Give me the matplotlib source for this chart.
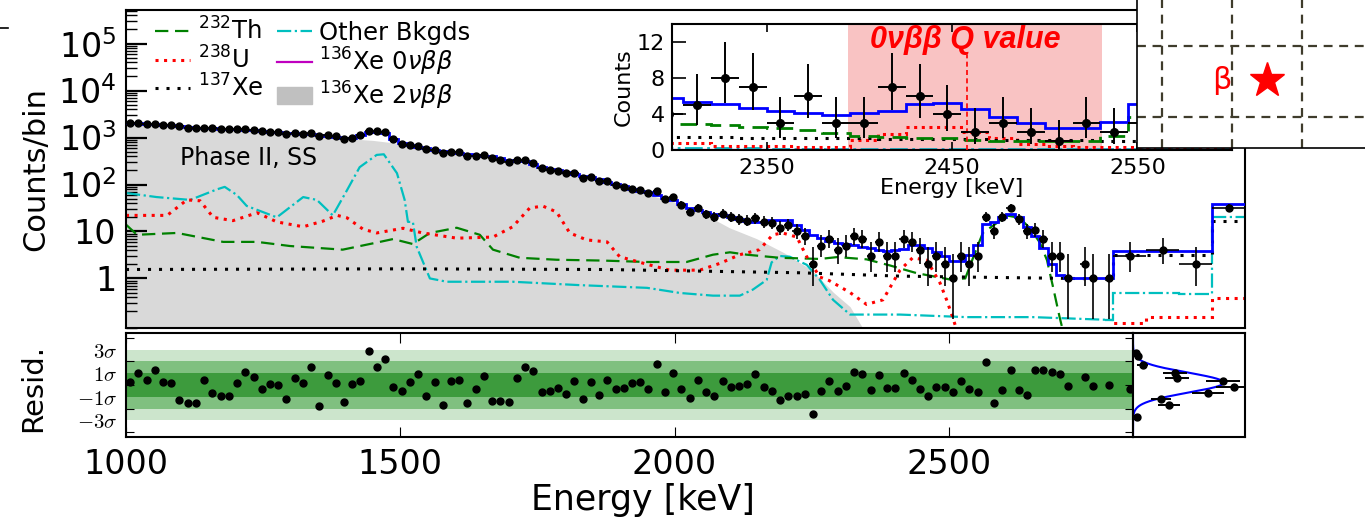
import numpy as np
import matplotlib

matplotlib.use("Agg")
import matplotlib.pyplot as plt
from matplotlib.lines import Line2D
from matplotlib.patches import Patch
from matplotlib.ticker import LogLocator, NullFormatter

W, H = 1365, 521

# 15 keV bins up to 2800 keV, then four wide bins at the top end
edges = np.r_[np.arange(1000, 2801, 15), [2860, 2920, 2980, 3040]]
centers = 0.5 * (edges[:-1] + edges[1:])
halfw = 0.5 * np.diff(edges)

counts = [
    2054, 2040, 1968, 1962, 1872, 1829, 1724, 1636, 1560, 1603,
    1559, 1511, 1514, 1519, 1521, 1471, 1369, 1320, 1287, 1216,
    1252, 1209, 1228, 1087, 1124, 1053, 931, 1002, 1134, 1390,
    1372, 1337, 927, 746, 698, 653, 567, 556, 475, 497,
    489, 414, 410, 422, 372, 337, 305, 327, 336, 289,
    225, 207, 196, 176, 174, 140, 148, 120, 120, 98,
    88, 82, 76, 65, 74, 48, 53, 37, 26, 31,
    23, 20, 24, 20, 18, 17, 19, 16, 15, 12,
    14, 10, 8, 2, 5, 7, 4, 5, 8, 7,
    3, 6, 3, 3, 7, 6, 4, 2, 3, 2,
    1, 3, 2, 3, 20, 10, 20, 31, 18, 10,
    11, 7, 3, 3, 1, 0, 2, 1, 0, 1,
    3, 4, 2, 31,
]

fit_total = [
    2042, 1995, 1950, 1905, 1862, 1820, 1778, 1698, 1622, 1585,
    1585, 1549, 1549, 1514, 1479, 1445, 1380, 1318, 1288, 1259,
    1230, 1202, 1175, 1148, 1096, 1047, 977, 1000, 1122, 1288,
    1318, 1259, 933, 759, 692, 631, 589, 550, 513, 490,
    479, 447, 417, 407, 398, 363, 331, 316, 309, 269,
    234, 214, 200, 186, 170, 155, 145, 129, 115, 102,
    91, 81, 74, 68, 60, 52, 46, 39, 32, 29,
    26.3, 24.0, 21.9, 20.4, 18.6, 17.0, 15.8, 16.2, 17.4, 17.8,
    17.4, 13.8, 10.7, 8.5, 7.1, 6.3, 5.75, 5.3, 5.07, 4.7,
    4.37, 4.07, 3.9, 4.07, 4.3, 5.07, 5.2, 4.52, 3.7, 2.96,
    2.4, 2.4, 3.1, 5.07, 14.1, 15.8, 20.4, 23.4, 20.4, 12.6,
    7.9, 4.5, 2.0, 1.2, 1.02, 1.02, 1.02, 1.02, 1.02, 1.02,
    3.9, 3.9, 3.9, 38,
]

nan = np.nan
resid = [
    0.27, 1.0, 0.4, 1.3, 0.24, 0.2, -1.27, -1.5, -1.54, 0.46,
    -0.65, -0.97, -0.9, 0.14, 1.08, 0.68, -0.3, 0.05, -0.03, -1.2,
    0.62, 0.19, 1.54, -1.8, 0.84, 0.19, -1.46, 0.05, 0.35, 2.84,
    1.49, 2.19, -0.19, -0.49, 0.24, 0.89, -0.89, 0.24, -1.7, 0.32,
    0.46, -1.54, -0.35, 0.73, -1.32, -1.38, -1.43, 0.59, 1.54, 1.22,
    -0.59, -0.51, -0.27, -0.76, 0.32, -1.2, 0.24, -0.81, 0.46, -0.35,
    -0.27, 0.14, 0.24, -0.35, 1.76, -0.57, 1.05, -0.35, -1.1, 0.46,
    -0.62, -0.89, 0.38, -0.14, -0.08, 0.05, 0.89, -0.14, -0.49, -1.3,
    -0.89, -0.95, -0.73, -2.49, -0.49, 0.38, -0.49, -0.05, 1.08, 0.92,
    -0.41, 0.81, -0.27, -0.27, 1.0, 0.41, -0.32, -0.89, -0.14, -0.19,
    -0.57, 0.35, -0.35, -0.62, 1.97, -1.49, -0.43, 1.27, -0.41, -0.84,
    1.27, 1.27, 1.08, 0.95, -0.08, nan, 0.68, -0.08, nan, 0.0,
    -0.3,
]

# background components (counts/bin) at sampled energies
th_e = [1000, 1020, 1093, 1177, 1239, 1299, 1395, 1457, 1487, 1523,
        1554, 1572, 1603, 1645, 1669, 1718, 1785, 1869, 1950, 2022,
        2070, 2101, 2132, 2192, 2265, 2297, 2350, 2392, 2441, 2502,
        2530, 2545, 2562, 2587, 2605, 2629, 2648, 2666, 2679, 2690,
        2702, 2712, 2800]
th_v = [14, 8.5, 9.3, 6.0, 6.0, 4.9, 4.1, 5.8, 6.9, 5.4,
        9.3, 10.2, 12, 8.5, 4.1, 2.75, 2.5, 2.4, 2.24, 2.24,
        3.2, 3.6, 3.2, 2.75, 2.6, 2.85, 2.55, 1.9, 1.3, 0.95,
        1.0, 2.9, 9.3, 15, 22, 19.5, 11.7, 5.8, 2.45, 0.66,
        0.15, 0.05, 0.05]

u_e = [1000, 1075, 1111, 1135, 1159, 1195, 1239, 1275, 1323, 1359,
       1385, 1403, 1432, 1457, 1505, 1541, 1603, 1669, 1705, 1736,
       1760, 1785, 1809, 1840, 1877, 1900, 1950, 1991, 2046, 2083,
       2119, 2155, 2179, 2197, 2223, 2241, 2265, 2282, 2320, 2350,
       2380, 2411, 2434, 2460, 2484, 2496, 2507, 2520, 2800]
u_v = [22, 22, 47, 45, 20, 17, 25, 16, 12.6, 16.6,
       22, 19.5, 11.2, 9.3, 11.7, 9.3, 7.2, 7.6, 12.6, 31.6,
       34.7, 26, 9.3, 6.6, 6.0, 2.9, 2.0, 1.5, 1.5, 2.1,
       3.2, 4.1, 8.5, 9.3, 7.6, 2.9, 1.07, 0.9, 0.5, 0.28,
       0.35, 1.5, 2.75, 2.45, 0.8, 0.35, 0.15, 0.05, 0.05]

oth_e = [1000, 1056, 1117, 1166, 1180, 1202, 1220, 1275, 1323, 1348,
         1377, 1403, 1426, 1457, 1470, 1494, 1508, 1514, 1523, 1530,
         1554, 1585, 1705, 1827, 1950, 2010, 2070, 2119, 2143, 2168,
         2177, 2192, 2210, 2241, 2265, 2289, 2320, 2411, 2532, 2653,
         2800]
oth_v = [66, 54, 47, 79, 89, 60, 35, 20, 54, 47,
         22, 76, 234, 427, 440, 174, 47, 16, 16, 4.7,
         1.0, 0.85, 0.85, 0.72, 0.63, 0.49, 0.43, 0.43, 0.58, 0.93,
         2.2, 3.0, 2.9, 1.95, 0.93, 0.35, 0.17, 0.17, 0.15, 0.15,
         0.13]

xe_e = [1000, 1500, 1870, 2228, 2411, 2532, 2775, 2800]
xe_v = [1.55, 1.6, 1.55, 1.32, 1.12, 1.07, 0.98, 0.98]

bb2_e = [1000, 1100, 1200, 1300, 1400, 1450, 1500, 1600, 1700, 1800,
         1900, 2000, 2050, 2100, 2150, 2200, 2250, 2290, 2320, 2345, 2360]
bb2_v = [1950, 1740, 1450, 1200, 955, 870, 740, 468, 316, 178,
         91, 42, 25, 12, 7, 3.5, 1.5, 0.5, 0.25, 0.08, 0.02]

# components in the four wide bins
th_wide = [0.05, 0.05, 0.05, 0.05]
u_wide = [0.11, 0.15, 0.15, 0.39]
xe_wide = [3.2, 3.2, 3.2, 17]
oth_wide = [0.49, 0.49, 0.47, 20]

# per-bin components for the ROI zoom (bins 2290-2605 keV)
th_roi = [2.85, 2.85, 2.8, 2.6, 2.5, 2.2, 1.9, 1.6, 1.4, 1.3, 1.3,
          1.1, 1.0, 1.0, 0.95, 0.95, 1.6, 3.7, 9, 14, 20]
u_roi = [0.75, 0.75, 0.5, 0.4, 0.4, 0.35, 0.35, 1.1, 1.8, 2.6, 2.6,
         2.0, 1.3, 0.7, 0.4, 0.3, 0.3, 0.3, 0.2, 0.2, 0.2]
xe_roi = [1.4, 1.4, 1.4, 1.35, 1.35, 1.3, 1.3, 1.3, 1.25, 1.25, 1.2,
          1.2, 1.15, 1.15, 1.1, 1.1, 1.05, 1.05, 1.05, 1.05, 1.05]
oth_roi = [0.2, 0.18, 0.17, 0.17, 0.16, 0.16, 0.16, 0.16, 0.15, 0.15, 0.15,
           0.15, 0.15, 0.15, 0.15, 0.15, 0.14, 0.14, 0.14, 0.14, 0.14]
bb0_roi = [0.03] * 21

Q_VALUE = 2458
ROI = (2394, 2531)

# residual distribution (side panel)
side_y = [2.7, 2.45, 1.7, 1.04, 0.63, 0.3, -0.2, -0.7, -1.2, -1.7, -2.7]
side_n = [0.9, 1.5, 3.0, 12.7, 13.4, 27.3, 30.7, 22.8, 8.5, 10.9, 1.2]
side_nerr = [1.0, 1.2, 1.7, 3.6, 3.7, 5.2, 5.5, 4.8, 2.9, 3.3, 1.1]
gauss_amp, gauss_mu, gauss_sd = 27.5, 0.2, 0.85


def poisson_err(n):
    n = np.asarray(n, float)
    lo = np.sqrt(np.clip(n - 0.25, 0, None))
    hi = np.sqrt(n + 0.75) + 1
    return lo, hi


counts = np.array(counts, float)
fit_total = np.array(fit_total, float)
err_lo, err_hi = poisson_err(counts)

GREEN, RED, CYAN = "g", "r", "c"
SPINE_LW = 1.5

fig = plt.figure(figsize=(W / 100, H / 100), dpi=100)


def px_axes(x0, y0, x1, y1):
    return fig.add_axes([x0 / W, 1 - y1 / H, (x1 - x0) / W, (y1 - y0) / H])


ax = px_axes(126, 10, 1245, 328)
rax = px_axes(126, 333, 1133, 437)
sax = px_axes(1133, 333, 1245, 437)
ins = px_axes(672, 24, 1232, 150)
box = px_axes(1137, 0, 1365, 148)

# ---- main spectrum
ax.set_yscale("log")
ax.set_xlim(1000, 3040)
ax.set_ylim(0.088, 5.2e5)
ax.fill_between(bb2_e, 1e-3, bb2_v, color="#d9d9d9", lw=0, zorder=1)

wide_edges = np.r_[2785, edges[-5:]]
comp_styles = [
    (oth_e, oth_v, oth_wide, dict(color=CYAN, ls="-.", lw=1.6)),
    (th_e, th_v, th_wide, dict(color=GREEN, ls=(0, (6, 3)), lw=1.6)),
    (u_e, u_v, u_wide, dict(color=RED, ls=(0, (1, 1.8)), lw=2.2)),
    (xe_e, xe_v, xe_wide, dict(color="k", ls=(0, (1, 2.6)), lw=2.2)),
]
for e, v, wide, st in comp_styles:
    ax.plot(e, v, zorder=2, **st)
    ax.stairs(np.r_[v[-1], wide], wide_edges, baseline=None, zorder=2, **st)

ax.stairs(fit_total, edges, color="b", lw=2, baseline=None, zorder=4)
m = counts > 0
ax.errorbar(centers[m], counts[m], yerr=[err_lo[m], err_hi[m]], xerr=halfw[m],
            fmt="o", ms=5, color="k", elinewidth=1.2, capsize=0, zorder=5)

ax.set_yticks([1, 10, 100, 1e3, 1e4, 1e5])
ax.set_yticklabels(["1", "10", "$10^2$", "$10^3$", "$10^4$", "$10^5$"])
ax.yaxis.set_minor_locator(LogLocator(base=10, subs=np.arange(2, 10), numticks=20))
ax.yaxis.set_minor_formatter(NullFormatter())
ax.tick_params(axis="y", which="major", direction="in", length=15, width=1.6,
               labelsize=24, pad=7)
ax.tick_params(axis="y", which="minor", direction="in", length=8, width=1)
ax.tick_params(axis="x", bottom=False, labelbottom=False)
ax.set_ylabel("Counts/bin", fontsize=22)
ax.yaxis.set_label_coords(-0.0675, 0.5)
ax.text(0.048, 0.535, "Phase II, SS", transform=ax.transAxes, fontsize=17,
        va="center", ha="left", zorder=6)

handles = [
    Line2D([], [], color=GREEN, ls=(0, (6, 3)), lw=1.6),
    Line2D([], [], color=RED, ls=(0, (1, 1.8)), lw=2.2),
    Line2D([], [], color="k", ls=(0, (1, 2.6)), lw=2.2),
    Line2D([], [], color=CYAN, ls="-.", lw=1.6),
    Line2D([], [], color="m", lw=1.6),
    Patch(color="#c0c0c0"),
]
labels = ["$^{232}$Th", "$^{238}$U", "$^{137}$Xe", "Other Bkgds",
          r"$^{136}$Xe 0$\nu\beta\beta$", r"$^{136}$Xe 2$\nu\beta\beta$"]
ax.legend(handles, labels, loc="upper left", bbox_to_anchor=(0.026, 0.976),
          ncol=2, frameon=False, fontsize=17.5, handlelength=1.45,
          handletextpad=0.3, columnspacing=0.55, labelspacing=0.05,
          borderpad=0, borderaxespad=0)

# ---- residuals
rax.axhspan(-3, 3, color="#cce5cc", lw=0)
rax.axhspan(-2, 2, color="#80c080", lw=0)
rax.axhspan(-1, 1, color="#3d9b3d", lw=0)
rax.plot(centers[:len(resid)], resid, "o", color="k", ms=5)
rax.set_xlim(1000, 2835.8)
rax.set_ylim(-4.4, 4.4)
rax.set_xticks([1000, 1500, 2000, 2500])
rax.set_yticks([-4, -2, 0, 2, 4])
rax.set_yticklabels([])
rax.set_yticks([3, 1, -1, -3], minor=True)
rax.set_yticklabels([r"$3\sigma$", r"$1\sigma$", r"$-1\sigma$", r"$-3\sigma$"],
                    minor=True)
for t in rax.get_yticklabels(minor=True):
    t.set_math_fontfamily("cm")
rax.tick_params(axis="y", which="major", direction="in", length=6, left=True, right=True)
rax.tick_params(axis="y", which="minor", length=0, labelsize=15, pad=6)
rax.tick_params(axis="x", direction="in", length=7, top=True, labelsize=24, pad=8)
rax.set_ylabel("Resid.", fontsize=21)
rax.yaxis.set_label_coords(-0.078, 0.47)
rax.set_xlabel("Energy [keV]", fontsize=25)
rax.xaxis.set_label_coords(0.513, -0.44)

# ---- residual distribution
yy = np.linspace(-4.4, 4.4, 300)
sax.plot(gauss_amp * np.exp(-0.5 * ((yy - gauss_mu) / gauss_sd) ** 2), yy,
         color="b", lw=1.5)
sax.errorbar(side_n, side_y, xerr=side_nerr, yerr=0.25, fmt="o", ms=5,
             color="k", elinewidth=1.4, capsize=0)
sax.set_xlim(0, 34)
sax.set_ylim(-4.4, 4.4)
sax.set_xticks([])
sax.set_yticks([])

# ---- ROI zoom
roi_edges = edges[86:108]
ins.axvspan(*ROI, color="#f9c3c3", lw=0, zorder=0)
ins.stairs(oth_roi, roi_edges, color=CYAN, ls="-.", lw=2, baseline=None)
ins.stairs(u_roi, roi_edges, color=RED, ls=(0, (1, 1.5)), lw=2.2, baseline=None)
ins.stairs(xe_roi, roi_edges, color="k", ls=(0, (1, 2.5)), lw=2.2, baseline=None)
ins.stairs(th_roi, roi_edges, color=GREEN, ls=(0, (6, 3)), lw=2, baseline=None)
ins.stairs(bb0_roi, roi_edges, color="m", lw=1.6, baseline=None)
ins.stairs(fit_total, edges, color="b", lw=2, baseline=None)
ins.errorbar(centers, counts, yerr=[err_lo, err_hi], xerr=halfw, fmt="o", ms=5.5,
             color="k", elinewidth=1.4, capsize=0, zorder=5)
ins.plot([Q_VALUE, Q_VALUE], [0, 10.6], color="r", ls=(0, (3, 2)), lw=1.2, zorder=4)
ins.text(2406, 12.2, "0νββ Q value", color="r", fontsize=22, fontweight="bold",
         fontstyle="italic", family="Liberation Sans", va="center", ha="left")
ins.set_xlim(2299, 2601)
ins.set_ylim(0, 14)
ins.set_xticks([2350, 2450, 2550])
ins.set_yticks([0, 4, 8, 12])
ins.tick_params(axis="y", direction="in", length=10, width=1.2, left=True, right=True,
                labelsize=16, pad=5)
ins.tick_params(axis="x", direction="in", length=6, width=1.2, top=True, labelsize=16, pad=6)
ins.set_xlabel("Energy [keV]", fontsize=16, labelpad=0)
ins.set_ylabel("Counts", fontsize=16, labelpad=2)

for a in (ax, rax, sax, ins):
    for s in a.spines.values():
        s.set_linewidth(SPINE_LW)

# ---- dashed grid panel with marker
box.set_xlim(-0.357, 2.9)
box.set_ylim(-0.437, 1.648)
for u in (0, 1, 2):
    box.axvline(u, color="#3f3c2c", ls=(0, (4, 3)), lw=1.6)
for v in (0, 1):
    box.axhline(v, color="#3f3c2c", ls=(0, (4, 3)), lw=1.6)
box.text(0.857, 0.52, "β", color="r", fontsize=22, ha="center", va="center")
box.plot(1.5, 0.52, marker="*", color="r", ms=26)
box.set_xticks([])
box.set_yticks([])
box.spines["top"].set_visible(False)
box.spines["right"].set_visible(False)
box.spines["left"].set_linewidth(1.2)
box.spines["bottom"].set_linewidth(1.2)

fig.add_artist(Line2D([0, 8 / W], [1 - 28 / H, 1 - 28 / H], color="k", lw=1.2))

fig.savefig("out.png", dpi=100)
